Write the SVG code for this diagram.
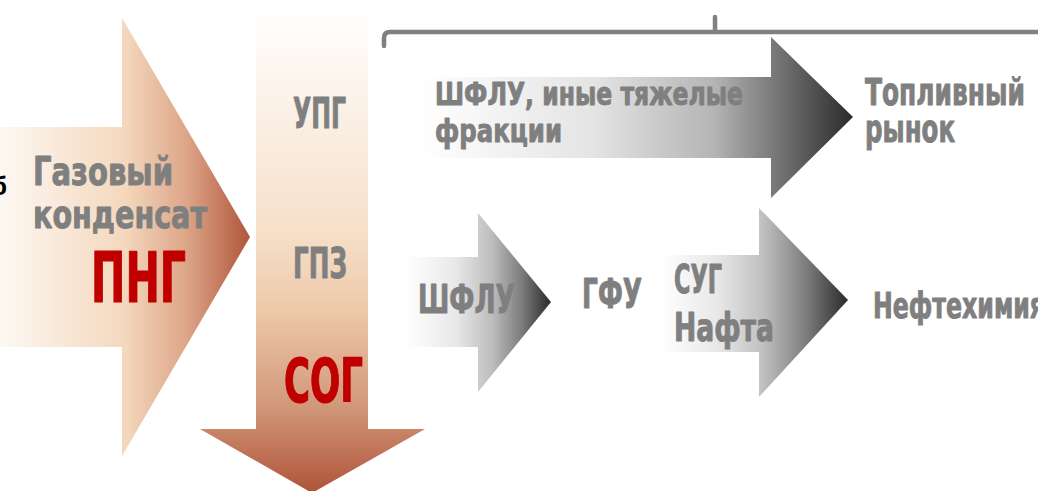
<svg xmlns="http://www.w3.org/2000/svg" width="1038" height="491" viewBox="0 0 1038 491">
<defs>
<linearGradient id="gLeft" gradientUnits="userSpaceOnUse" x1="0" y1="0" x2="250" y2="0">
<stop offset="0" stop-color="#fdf8f3"/>
<stop offset="0.5" stop-color="#f4d8bd"/>
<stop offset="0.75" stop-color="#dca487"/>
<stop offset="1" stop-color="#b0553a"/>
</linearGradient>
<linearGradient id="gDown" gradientUnits="userSpaceOnUse" x1="0" y1="15" x2="0" y2="491">
<stop offset="0" stop-color="#fffefd"/>
<stop offset="0.45" stop-color="#f6e0ca"/>
<stop offset="0.62" stop-color="#eec9aa"/>
<stop offset="0.82" stop-color="#d1987a"/>
<stop offset="1" stop-color="#b0553a"/>
</linearGradient>
<linearGradient id="gTop" gradientUnits="userSpaceOnUse" x1="420" y1="0" x2="853" y2="0">
<stop offset="0" stop-color="#ffffff"/>
<stop offset="0.4" stop-color="#e4e4e4"/>
<stop offset="0.68" stop-color="#b4b4b4"/>
<stop offset="0.81" stop-color="#7c7c7c"/>
<stop offset="1" stop-color="#2a2a2a"/>
</linearGradient>
<linearGradient id="gA1" gradientUnits="userSpaceOnUse" x1="405" y1="0" x2="551" y2="0">
<stop offset="0" stop-color="#ffffff"/>
<stop offset="0.35" stop-color="#e8e8e8"/>
<stop offset="0.6" stop-color="#bcbcbc"/>
<stop offset="0.8" stop-color="#7c7c7c"/>
<stop offset="1" stop-color="#2a2a2a"/>
</linearGradient>
<linearGradient id="gA2" gradientUnits="userSpaceOnUse" x1="660" y1="0" x2="848" y2="0">
<stop offset="0" stop-color="#ffffff"/>
<stop offset="0.3" stop-color="#e8e8e8"/>
<stop offset="0.55" stop-color="#c0c0c0"/>
<stop offset="0.78" stop-color="#7c7c7c"/>
<stop offset="1" stop-color="#2a2a2a"/>
</linearGradient>
</defs>
<style>
.t{font-family:"Liberation Sans Narrow","DejaVu Sans Condensed","Liberation Sans",sans-serif;font-weight:bold;fill:#7f7f7f;stroke:#7f7f7f;stroke-width:0.9;stroke-linejoin:round}
.r{fill:#c00000;stroke:#c00000;stroke-width:1.2}
.brace{fill:none;stroke:#808080;stroke-width:4.5;stroke-linecap:round;stroke-linejoin:round}
</style>
<rect width="1038" height="491" fill="#ffffff"/>
<g id="connectors">
<path class="brace" d="M384 46 L384 38 Q384 32 390 32 L1040 32"/>
<path class="brace" d="M715 32 L715 17"/>
</g>
<g id="png-arrow">
<path d="M0 127 L122 127 L122 18 L250 237 L122 456 L122 347 L0 347 Z" fill="url(#gLeft)"/>
<text x="-9" y="195" font-family="Liberation Sans, sans-serif" font-size="26" font-weight="bold" fill="#000000">б</text>
<text class="t" x="33" y="185" font-size="39" textLength="140" lengthAdjust="spacingAndGlyphs">Газовый</text>
<text class="t" x="33" y="228" font-size="39" textLength="174" lengthAdjust="spacingAndGlyphs">конденсат</text>
<text class="t r" x="91" y="302" font-size="70" textLength="95" lengthAdjust="spacingAndGlyphs">ПНГ</text>
</g>
<g id="process-arrow">
<path d="M256 15 L368 15 L368 429 L425 429 L312 493 L200 429 L256 429 Z" fill="url(#gDown)"/>
<text class="t" x="293" y="128" font-size="42" textLength="53" lengthAdjust="spacingAndGlyphs">УПГ</text>
<text class="t" x="293" y="278" font-size="42" textLength="54" lengthAdjust="spacingAndGlyphs">ГПЗ</text>
<text class="t r" x="284" y="402" font-size="61" textLength="79" lengthAdjust="spacingAndGlyphs">СОГ</text>
</g>
<g id="fuel-arrow">
<path d="M420 77 L771 77 L771 37 L853 117 L771 198 L771 158 L420 158 Z" fill="url(#gTop)"/>
<text class="t" x="435" y="105" font-size="32" textLength="308" lengthAdjust="spacingAndGlyphs">ШФЛУ, иные тяжелые</text>
<text class="t" x="435" y="142" font-size="32" textLength="127" lengthAdjust="spacingAndGlyphs">фракции</text>
</g>
<g id="fuel-market">
<text class="t" x="865" y="105" font-size="37" textLength="160" lengthAdjust="spacingAndGlyphs">Топливный</text>
<text class="t" x="865" y="142" font-size="37" textLength="90" lengthAdjust="spacingAndGlyphs">рынок</text>
</g>
<g id="shflu-arrow">
<path d="M405 257 L478 257 L478 213 L551 302 L478 392 L478 347 L405 347 Z" fill="url(#gA1)"/>
<text class="t" x="418" y="313" font-size="39" textLength="97" lengthAdjust="spacingAndGlyphs">ШФЛУ</text>
</g>
<g id="gfu">
<text class="t" x="582" y="308" font-size="40" textLength="60" lengthAdjust="spacingAndGlyphs">ГФУ</text>
</g>
<g id="sug-arrow">
<path d="M660 255 L759 255 L759 208 L848 300 L759 397 L759 352 L660 352 Z" fill="url(#gA2)"/>
<text class="t" x="674" y="293" font-size="39" textLength="48" lengthAdjust="spacingAndGlyphs">СУГ</text>
<text class="t" x="674" y="341" font-size="39" textLength="100" lengthAdjust="spacingAndGlyphs">Нафта</text>
</g>
<g id="petrochem">
<text class="t" x="873" y="318" font-size="36" textLength="172" lengthAdjust="spacingAndGlyphs">Нефтехимия</text>
</g>
</svg>
